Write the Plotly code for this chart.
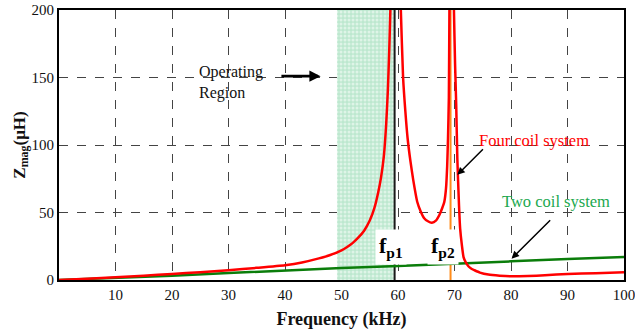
import plotly.graph_objects as go

# ---- data ----
red_f_left = [0, 5, 10, 15, 20, 25, 30, 35, 40, 43, 46, 48, 50, 51, 52, 53, 54, 55, 55.8, 56.5, 57.0, 57.5, 57.9, 58.2, 58.45, 58.65, 58.8]
red_z_left = [0, 1, 2, 3.2, 4.5, 5.8, 7.2, 9, 11, 13, 16, 18.5, 22, 24.5, 27.5, 31.5, 36.5, 44, 53, 65, 76, 92, 115, 140, 170, 200, 230]

red_f_mid = [60.2, 60.5, 60.9, 61.3, 61.7, 62.2, 62.7, 63.4, 64.0, 64.6, 65.3, 66.0, 66.7, 67.3, 67.8, 68.2, 68.5, 68.7, 68.85, 69.0, 69.1, 69.2]
red_z_mid = [240, 200, 150, 125, 105, 88, 74, 58, 51, 46, 43.5, 42.5, 44, 48, 53, 58, 68, 84, 105, 135, 200, 240]

red_f_right = [69.8, 69.9, 70.1, 70.3, 70.5, 70.8, 71.0, 71.3, 71.6, 72.0, 72.5, 73.0, 73.5, 74.5, 76, 78, 80, 83, 86, 90, 95, 100]
red_z_right = [240, 200, 160, 130, 90, 55, 38, 26, 17, 13, 10, 8.3, 7.3, 5.5, 4, 3.2, 2.8, 3, 3.5, 4.5, 5, 5.8]

green_f = [0, 10, 20, 30, 40, 50, 60, 70, 80, 90, 100]
green_z = [0, 1.5, 3.2, 5.2, 7.2, 8.8, 10.3, 11.8, 13.8, 15.5, 17]

region_f = [49.2, 59.4]
fp1 = 59.4
fp2 = 69.3

x_ticks = [10, 20, 30, 40, 50, 60, 70, 80, 90, 100]
y_ticks = [0, 50, 100, 150, 200]

SERIF = "Liberation Serif"

fig = go.Figure()

# operating region (patterned fill)
fig.add_trace(go.Scatter(
    x=[region_f[0], region_f[1], region_f[1], region_f[0], region_f[0]],
    y=[0, 0, 200, 200, 0],
    fill="toself", mode="none",
    fillcolor="#bde8cf",
    fillpattern=dict(shape=".", fgcolor="white", bgcolor="#bde8cf", size=4, solidity=0.45),
    hoverinfo="skip", showlegend=False,
))

# fp1 / fp2 lines
fig.add_trace(go.Scatter(x=[fp1, fp1], y=[0, 200], mode="lines",
                         line=dict(color="#1a1a1a", width=2), showlegend=False))
fig.add_trace(go.Scatter(x=[fp2, fp2], y=[0, 200], mode="lines",
                         line=dict(color="#ff8c1a", width=2), showlegend=False))

# curves
fig.add_trace(go.Scatter(x=green_f, y=green_z, mode="lines",
                         line=dict(color="#0a7d0a", width=2.5), showlegend=False))
for fx, zy in [(red_f_left, red_z_left), (red_f_mid, red_z_mid), (red_f_right, red_z_right)]:
    fig.add_trace(go.Scatter(x=fx, y=zy, mode="lines",
                             line=dict(color="#ff0000", width=2.5, shape="spline", smoothing=0.5),
                             showlegend=False))

# annotations
fig.add_annotation(x=24.4, y=146, xref="x", yref="y", xanchor="left", yanchor="middle",
                   text="Operating<br>Region", showarrow=False, align="left",
                   font=dict(family=SERIF, size=16, color="#111"))
fig.add_annotation(x=46.3, y=151, ax=39.1, ay=151, xref="x", yref="y", axref="x", ayref="y",
                   text="", showarrow=True, arrowhead=2, arrowsize=0.8, arrowwidth=2.8, arrowcolor="black")

fig.add_annotation(x=84.0, y=103.6, xref="x", yref="y", text="Four coil system", showarrow=False,
                   font=dict(family=SERIF, size=16.5, color="#ff0000"))
fig.add_annotation(x=70.5, y=77.9, ax=75.3, ay=97.9, xref="x", yref="y", axref="x", ayref="y",
                   text="", showarrow=True, arrowhead=2, arrowsize=1, arrowwidth=1.5, arrowcolor="black")

fig.add_annotation(x=87.9, y=58.3, xref="x", yref="y", text="Two coil system", showarrow=False,
                   font=dict(family=SERIF, size=16.5, color="#20a84e"))
fig.add_annotation(x=80.1, y=15.8, ax=87.2, ay=45.4, xref="x", yref="y", axref="x", ayref="y",
                   text="", showarrow=True, arrowhead=2, arrowsize=1, arrowwidth=1.5, arrowcolor="black")

for xc, lab in [(58.7, "f<sub>p1</sub>"), (68.0, "f<sub>p2</sub>")]:
    fig.add_annotation(x=xc, y=24.3, xref="x", yref="y", text="<b>" + lab + "</b>", showarrow=False,
                       bgcolor="white", borderpad=3,
                       font=dict(family=SERIF, size=22, color="black"))

fig.update_xaxes(range=[0, 100], tickvals=x_ticks, showgrid=True, gridcolor="#444", griddash="dash",
                 gridwidth=1, showline=True, linecolor="black", linewidth=2, mirror=True,
                 ticks="", zeroline=False, automargin=False, ticklabeloverflow="allow",
                 tickfont=dict(family=SERIF, size=15, color="#111"),
                 tickprefix="<b>", ticksuffix="</b>",
                 title=dict(text="<b>Frequency (kHz)</b>", font=dict(family=SERIF, size=18, color="#111"),
                            standoff=10))
fig.update_yaxes(range=[0, 200], tickvals=y_ticks, showgrid=True, gridcolor="#444", griddash="dash",
                 gridwidth=1, showline=True, linecolor="black", linewidth=2, mirror=True,
                 ticks="", zeroline=False, automargin=False,
                 tickfont=dict(family=SERIF, size=15, color="#111"),
                 tickprefix="<b>", ticksuffix="</b>",
                 title=dict(text="<b>Z<sub>mag</sub>(μH)</b>", font=dict(family=SERIF, size=17, color="#111"),
                            standoff=2))

fig.update_layout(width=635, height=331, margin=dict(l=59, r=11, t=10, b=51, autoexpand=False),
                  plot_bgcolor="white", paper_bgcolor="white", showlegend=False)

fig.write_html("out.html", config={"displayModeBar": False},
               post_script="document.body.style.margin='0px';")
